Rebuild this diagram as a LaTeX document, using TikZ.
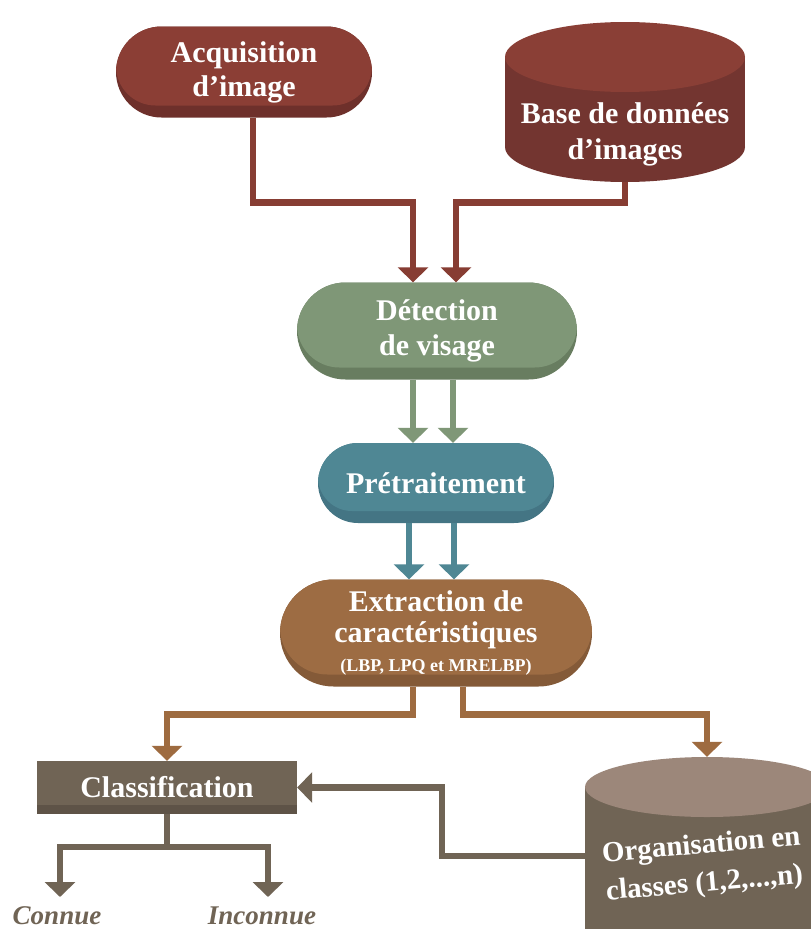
\documentclass[tikz,border=0pt]{standalone}
\usepackage{fontspec}
\setmainfont{Liberation Serif}
\usetikzlibrary{arrows.meta,calc}
\definecolor{redL}{HTML}{8B3E35}
\definecolor{redD}{HTML}{6E302B}
\definecolor{redA}{HTML}{873D33}
\definecolor{dbTop}{HTML}{8A3F36}
\definecolor{dbBody}{HTML}{733530}
\definecolor{greenL}{HTML}{7F9777}
\definecolor{greenD}{HTML}{687D60}
\definecolor{tealL}{HTML}{4F8794}
\definecolor{tealD}{HTML}{447584}
\definecolor{brownL}{HTML}{9D6C43}
\definecolor{brownD}{HTML}{845A38}
\definecolor{brownA}{HTML}{9E6B40}
\definecolor{greyL}{HTML}{706455}
\definecolor{greyD}{HTML}{5E5347}
\definecolor{greyTop}{HTML}{9C877A}
\tikzset{
  pill/.style n args={4}{rectangle, minimum width=#1, minimum height=#2, inner sep=0pt,
    rounded corners=#2/2, fill=#4, text=white, align=center,
    font=\bfseries\fontsize{30}{35}\selectfont,
    path picture={\fill[#3, rounded corners=(#2-12)/2] (path picture bounding box.north west)
      rectangle ($(path picture bounding box.south east)+(0,-12)$);}},
  boxnode/.style n args={4}{rectangle, minimum width=#1, minimum height=#2, inner sep=0pt,
    fill=#4, text=white, align=center, font=\bfseries\fontsize{30}{35}\selectfont,
    path picture={\fill[#3] (path picture bounding box.north west)
      rectangle ($(path picture bounding box.south east)+(0,-9)$);}},
  cyltext/.style 2 args={rectangle, minimum width=#1, minimum height=#2, inner sep=0pt,
    text=white, align=center, font=\bfseries\fontsize{30}{34}\selectfont},
  flow/.style={line width=6.5pt, line join=miter, -{Triangle[width=30pt,length=15pt]}},
  outlabel/.style={text=greyL, font=\bfseries\itshape\fontsize{27}{30}\selectfont, inner sep=0pt, anchor=base},
}
\begin{document}
\begin{tikzpicture}[x=1pt,y=-1pt]
\useasboundingbox (0,0) rectangle (811,929);
\fill[white] (0,0) rectangle (811,929);

% cylinders drawn directly
\fill[dbBody] (505,57) rectangle (745,147);
\fill[dbBody] (625,147) ellipse [x radius=120pt, y radius=35pt];
\fill[dbTop] (625,57) ellipse [x radius=120pt, y radius=35pt];

\fill[greyL] (585,787) rectangle (829,940);
\fill[greyTop] (707,787) ellipse [x radius=122pt, y radius=30pt];

% nodes
\node[pill={256}{91}{redL}{redD}] (acq) at (244,72) {Acquisition\\[-1pt]d’image};
\node[cyltext={240}{96}] (db) at (625,134) {Base de données\\[2pt]d’images};
\node[pill={280}{97}{greenL}{greenD}] (det) at (437,331) {Détection\\de visage};
\node[pill={236}{80}{tealL}{tealD}] (pre) at (436,483) {Prétraitement};
\node[pill={312}{107}{brownL}{brownD}] (ext) at (436,633)
  {Extraction de\\[-4pt]caractéristiques\\[-6pt]{\fontsize{18}{20}\selectfont(LBP, LPQ et MRELBP)}};
\node[boxnode={260}{53}{greyL}{greyD}] (cls) at (167,787.5) {\raisebox{1.5pt}{Classification}};
\node[cyltext={236}{218}, font=\bfseries\fontsize{29}{33}\selectfont] (org) at (703,866)
  {\rotatebox{5}{\begin{tabular}{@{}c@{}}Organisation en\\[5pt]classes (1,2,...,n)\end{tabular}}};
\node[outlabel] (connue) at (57,924) {Connue};
\node[outlabel] (inconnue) at (262,924) {Inconnue};

% connectors
\draw[flow, redA] ($(acq.south)+(9,0)$) |- ($(det.north)+(-24,-80)$) -- ($(det.north)+(-24,0)$);
\draw[flow, redA] (db.south) |- ($(det.north)+(19,-80)$) -- ($(det.north)+(19,0)$);
\draw[flow, greenL] ($(det.south)+(-24,0)$) -- ($(pre.north)+(-23,0)$);
\draw[flow, greenL] ($(det.south)+(16,0)$) -- ($(pre.north)+(17,0)$);
\draw[flow, tealL] ($(pre.south)+(-27,0)$) -- ($(ext.north)+(-27,0)$);
\draw[flow, tealL] ($(pre.south)+(18,0)$) -- ($(ext.north)+(18,0)$);
\draw[flow, brownA] ($(ext.south)+(-23,0)$) -- ++(0,28) -| (cls.north);
\draw[flow, brownA] ($(ext.south)+(27,0)$) -- ++(0,28) -| ($(org.north)+(4,0)$);
\draw[flow, greyL] ($(org.west)+(0,-10)$) -- ++(-143,0) |- (cls.east);
\draw[flow, greyL] (cls.south) -- ++(0,33) -| ($(connue.base)+(3,-27)$);
\draw[flow, greyL] (cls.south) -- ++(0,33) -| ($(inconnue.base)+(6,-27)$);
\end{tikzpicture}
\end{document}
